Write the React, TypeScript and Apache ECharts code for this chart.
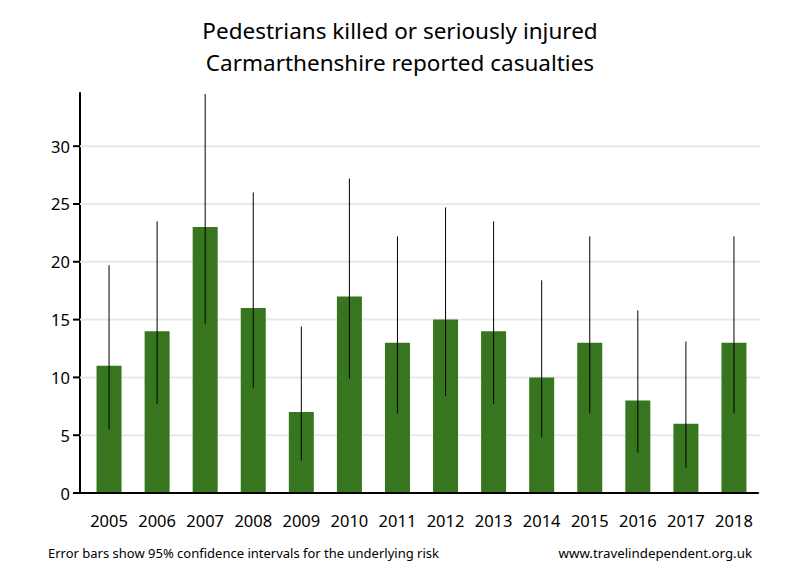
import React, { useEffect, useRef } from "react";
import * as echarts from "echarts";

const years = ["2005", "2006", "2007", "2008", "2009", "2010", "2011", "2012", "2013", "2014", "2015", "2016", "2017", "2018"];
const casualties = [11, 14, 23, 16, 7, 17, 13, 15, 14, 10, 13, 8, 6, 13];
const ciLow = [5.5, 7.7, 14.6, 9.1, 2.8, 9.9, 6.9, 8.4, 7.7, 4.8, 6.9, 3.5, 2.2, 6.9];
const ciHigh = [19.7, 23.5, 34.5, 26.0, 14.4, 27.2, 22.2, 24.7, 23.5, 18.4, 22.2, 15.8, 13.1, 22.2];
const yTicks = [0, 5, 10, 15, 20, 25, 30];
const yAxisMax = 34.6;

const FONT = "'Noto Sans', 'Open Sans', sans-serif";

export default function App() {
  const ref = useRef<HTMLDivElement>(null);
  useEffect(() => {
    if (!ref.current) return;
    const chart = echarts.init(ref.current, null, { renderer: "svg" });
    const staticGraphics: any[] = [
      {
        id: "xstub",
        type: "line",
        shape: { x1: 79, y1: 493, x2: 86, y2: 493 },
        style: { stroke: "#000", lineWidth: 2 },
        z: 10,
      },
      {
        id: "foot1",
        type: "text",
        left: 48,
        top: 546,
        style: { text: "Error bars show 95% confidence intervals for the underlying risk", fontSize: 13, fill: "#000", fontFamily: FONT },
      },
      {
        id: "foot2",
        type: "text",
        right: 48,
        top: 546,
        style: { text: "www.travelindependent.org.uk", fontSize: 13.3, fill: "#000", fontFamily: FONT },
      },
    ];
    chart.setOption({
      animation: false,
      backgroundColor: "#ffffff",
      textStyle: { fontFamily: FONT },
      title: {
        text: "Pedestrians killed or seriously injured\nCarmarthenshire reported casualties",
        left: "center",
        top: 9,
        textStyle: { fontFamily: FONT, fontSize: 22.5, fontWeight: "normal", color: "#000", lineHeight: 32 },
      },
      grid: { left: 85, right: 42, top: 93, bottom: 87 },
      xAxis: {
        type: "category",
        data: years,
        axisLine: { lineStyle: { color: "#000", width: 2 } },
        axisTick: { show: false },
        axisLabel: { color: "#000", fontSize: 16.5, margin: 19, interval: 0, fontFamily: FONT },
        splitLine: { show: false },
        z: 4,
      },
      yAxis: {
        type: "value",
        min: 0,
        max: yAxisMax,
        interval: 5,
        offset: 5,
        axisLine: { show: true, lineStyle: { color: "#000", width: 2 } },
        axisTick: { show: false },
        axisLabel: { color: "#000", fontSize: 16.5, margin: 10, customValues: yTicks, fontFamily: FONT },
        splitLine: { show: false },
      },
      series: [
        {
          type: "custom",
          data: yTicks.map((v) => [0, v]),
          z: 1,
          silent: true,
          clip: false,
          renderItem: (params: any, api: any) => {
            const cs = params.coordSys;
            const y = api.coord([0, api.value(1)])[1];
            return {
              type: "line",
              shape: { x1: cs.x - 5, y1: y, x2: cs.x + cs.width + 2, y2: y },
              style: { stroke: "#e8e8e8", lineWidth: 2 },
            };
          },
        },
        {
          type: "bar",
          data: casualties,
          barWidth: 25,
          itemStyle: { color: "#37761f" },
          z: 2,
        },
        {
          type: "custom",
          data: years.map((_, i) => [i, ciLow[i], ciHigh[i]]),
          z: 5,
          renderItem: (params: any, api: any) => {
            const x = api.value(0);
            const lo = api.coord([x, api.value(1)]);
            const hi = api.coord([x, api.value(2)]);
            return {
              type: "line",
              shape: { x1: lo[0], y1: lo[1], x2: hi[0], y2: hi[1] },
              style: { stroke: "#000", lineWidth: 1 },
            };
          },
        },
      ],
      graphic: staticGraphics,
    });
    const tickGraphics = yTicks.map((v, i) => {
      const y = chart.convertToPixel({ yAxisIndex: 0 }, v) as number;
      return {
        id: "ytick" + i,
        type: "line",
        shape: { x1: 73, y1: y, x2: 80, y2: y },
        style: { stroke: "#000", lineWidth: 2 },
        z: 20,
      };
    });
    chart.setOption({ graphic: [...staticGraphics, ...tickGraphics] });
    return () => chart.dispose();
  }, []);
  return <div ref={ref} style={{ position: "fixed", left: 0, top: 0, width: 800, height: 580 }} />;
}
